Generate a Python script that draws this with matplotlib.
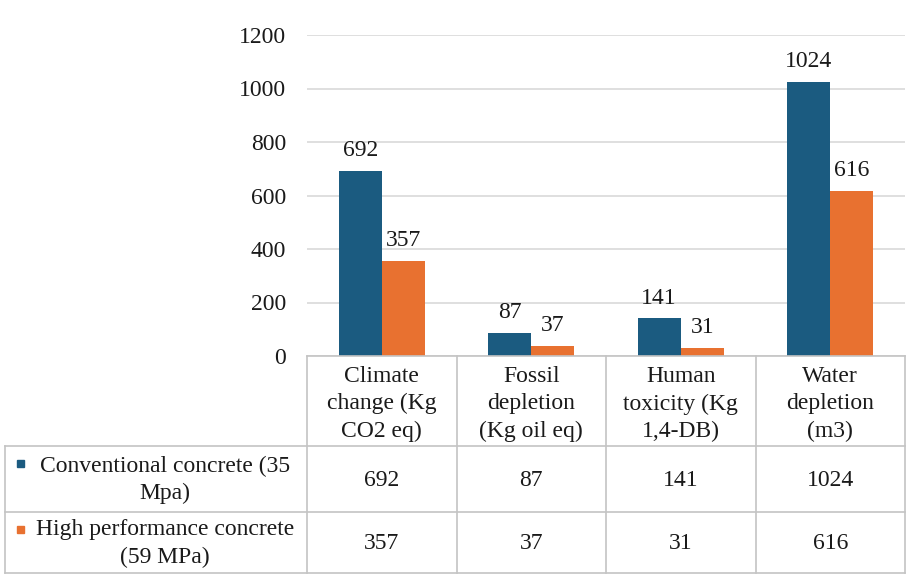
import matplotlib
matplotlib.use("Agg")
import matplotlib.pyplot as plt
from matplotlib.lines import Line2D
from matplotlib.patches import Rectangle
import matplotlib.transforms as mtransforms
import numpy as np

categories = ["Climate\nchange (Kg\nCO2 eq)", "Fossil\ndepletion\n(Kg oil eq)",
              "Human\ntoxicity (Kg\n1,4-DB)", "Water\ndepletion\n(m3)"]
series_names = ["Conventional concrete (35\nMpa)", "High performance concrete\n(59 MPa)"]
conventional = [692, 87, 141, 1024]
high_perf = [357, 37, 31, 616]
yticks = [0, 200, 400, 600, 800, 1000, 1200]

colors = ["#1b5b80", "#e87130"]
grid_c = "#d9d9d9"
line_c = "#c4c4c4"
txt_c = "#1a1a1a"

plt.rcParams['font.family'] = ['Liberation Serif', 'DejaVu Serif']
fs = 17

fig = plt.figure(figsize=(9.22, 5.75), dpi=100)
W, H = 922, 575
def fy(py):
    return 1 - py / H

ax = fig.add_axes([307 / W, fy(356), (905 - 307) / W, (356 - 35) / H])
x = np.arange(len(categories))
bw = 0.288
series = [conventional, high_perf]
for i, vals in enumerate(series):
    xs = x + (i - 0.5) * bw
    ax.bar(xs, vals, width=bw, color=colors[i], zorder=3)
    for xx, v in zip(xs, vals):
        ax.annotate(str(v), (xx, v), xytext=(0, 7), textcoords="offset points",
                    ha="center", va="bottom", fontsize=fs, color=txt_c)

ax.set_xlim(-0.5, len(categories) - 0.5)
ax.set_ylim(0, 1200)
ax.set_yticks(yticks)
ax.set_yticklabels([str(t) for t in yticks], fontsize=fs, color=txt_c)
ax.tick_params(axis='y', length=0, pad=15)
ax.set_xticks([])
ax.grid(axis='y', color=grid_c, linewidth=1.2, zorder=0)
for s in ax.spines.values():
    s.set_visible(False)

# data table below the axes
tr = mtransforms.blended_transform_factory(ax.transData, fig.transFigure)
tf = fig.transFigure
y_top, y_r1, y_r2, y_bot = 356, 446, 512, 573
x_left = 5 / W

def hline(py, x0_fig):
    fig.add_artist(Line2D([x0_fig, 905 / W], [fy(py), fy(py)], transform=tf,
                          color=line_c, linewidth=1.2))

fig.add_artist(Line2D([307 / W, 905 / W], [fy(y_top), fy(y_top)], transform=tf,
                      color=line_c, linewidth=1.2))
hline(y_r1, x_left)
hline(y_r2, x_left)
hline(y_bot, x_left)
for b in np.arange(len(categories) + 1) - 0.5:
    fig.add_artist(Line2D([b, b], [fy(y_top), fy(y_bot)], transform=tr,
                          color=line_c, linewidth=1.2))
fig.add_artist(Line2D([x_left, x_left], [fy(y_r1), fy(y_bot)], transform=tf,
                      color=line_c, linewidth=1.2))

for xi, cat in zip(x, categories):
    fig.text(xi, fy(404), cat, transform=tr, ha="center",
             va="center", fontsize=fs, color=txt_c, linespacing=1.4)

rows = [(y_r1, y_r2), (y_r2, y_bot)]
for i, (name, vals) in enumerate(zip(series_names, series)):
    r0, r1 = rows[i]
    yc = fy((r0 + r1) / 2 + 1)
    for xi, v in zip(x, vals):
        fig.text(xi, yc, str(v), transform=tr, ha="center", va="center",
                 fontsize=fs, color=txt_c)
    fig.text(165 / W, yc, name, transform=tf, ha="center", va="center",
             fontsize=fs, color=txt_c, linespacing=1.4, multialignment="center")
    fig.add_artist(Rectangle((17 / W, fy(r0 + 21)), 7 / W, 7 / H, transform=tf,
                             color=colors[i]))

fig.savefig("out.png", dpi=100)
